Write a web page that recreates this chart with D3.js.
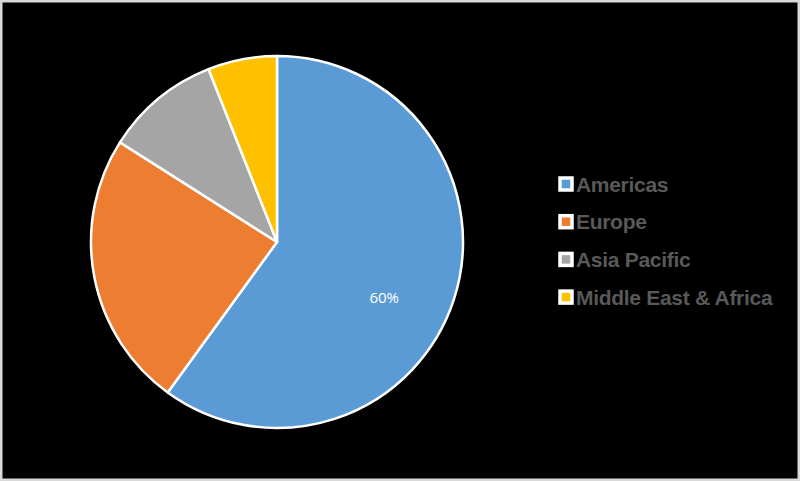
<!DOCTYPE html>
<html><head><meta charset="utf-8">
<script src="https://cdn.jsdelivr.net/npm/d3@7"></script>
<style>html,body{margin:0;padding:0;background:#000;}svg{display:block;}</style>
</head><body>
<svg id="chart" width="800" height="481"></svg>
<script>
const categories = ["Americas", "Europe", "Asia Pacific", "Middle East & Africa"];
const values = [60, 24, 10, 6];
const colors = ["#5B9BD5", "#ED7D31", "#A5A5A5", "#FFC000"];
const shownLabels = ["60%", null, null, null];

const W = 800, H = 481;
const svg = d3.select("#chart");
svg.append("rect").attr("x", 1).attr("y", 1).attr("width", W - 2).attr("height", H - 2)
  .attr("fill", "#000").attr("stroke", "#d9d9d9").attr("stroke-width", 3);

const cx = 277, cy = 242, R = 186;
const data = categories.map((c, i) => ({ cat: c, value: values[i], color: colors[i], label: shownLabels[i] }));
const pie = d3.pie().value(d => d.value).sort(null);
const arc = d3.arc().innerRadius(0).outerRadius(R);
const g = svg.append("g").attr("transform", `translate(${cx},${cy})`);
const arcs = pie(data);
g.selectAll("path").data(arcs).enter().append("path")
  .attr("d", arc).attr("fill", d => d.data.color)
  .attr("stroke", "#fff").attr("stroke-width", 2.5).attr("stroke-linejoin", "round");

const labelArc = d3.arc().innerRadius(R * 0.64).outerRadius(R * 0.64);
g.selectAll("text.lbl").data(arcs.filter(d => d.data.label)).enter().append("text")
  .attr("class", "lbl")
  .attr("transform", d => { const c = labelArc.centroid(d); return `translate(${c[0] - 6},${c[1] + 18})`; })
  .attr("text-anchor", "middle").attr("dominant-baseline", "central")
  .attr("font-family", "'Liberation Sans Narrow', 'Open Sans', sans-serif").attr("font-size", 15)
  .attr("fill", "#fff").text(d => d.data.label);

const legend = svg.append("g").attr("transform", "translate(558,184)");
const rowH = 37.7;
const items = legend.selectAll("g").data(data).enter().append("g")
  .attr("transform", (d, i) => `translate(0,${i * rowH})`);
items.append("rect").attr("x", 2).attr("y", -6).attr("width", 12).attr("height", 12)
  .attr("fill", d => d.color).attr("stroke", "#fff").attr("stroke-width", 3.5);
items.append("text").attr("x", 18).attr("y", 0).attr("dominant-baseline", "central")
  .attr("font-family", "'Liberation Sans', Arial, sans-serif").attr("font-size", 21)
  .attr("font-weight", "bold")
  .attr("fill", "#595959").attr("letter-spacing", -0.3).text(d => d.cat);
</script>
</body></html>
